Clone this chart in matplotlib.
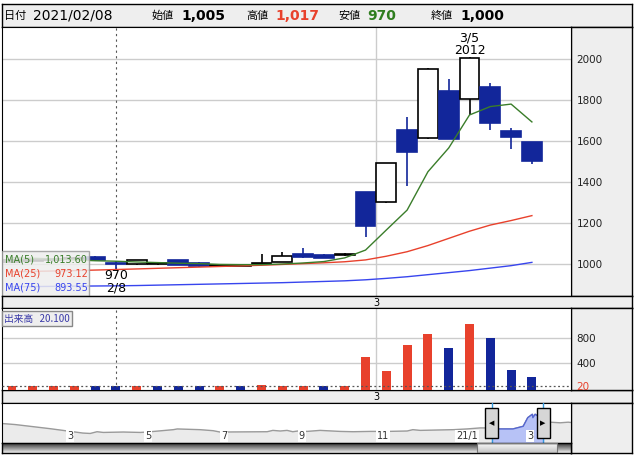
import numpy as np
import matplotlib
matplotlib.use("Agg")
import matplotlib.pyplot as plt
from matplotlib.patches import Rectangle
import matplotlib.transforms as mtransforms

plt.rcParams['font.family'] = ['DejaVu Sans', 'Noto Sans CJK JP']

# ---- daily data, day 0 = 2021/02/08 ----
days = list(range(-5, 21))
opens = [1012, 1016, 1020, 1024, 1034, 1005, 1000, 1002, 1018, 1003, 992, 991, 1000, 1010, 1050,
         1045, 1044, 1350, 1301, 1654, 1613, 1844, 1803, 1862, 1650, 1595]
highs = [1022, 1026, 1030, 1035, 1040, 1017, 1022, 1010, 1022, 1010, 998, 997, 1050, 1058, 1078,
         1050, 1056, 1352, 1495, 1716, 1955, 1901, 2012, 1881, 1663, 1597]
lows = [1008, 1012, 1015, 1020, 1016, 970, 995, 997, 993, 985, 988, 990, 998, 1008, 1030,
        1028, 1040, 1133, 1298, 1380, 1608, 1608, 1727, 1654, 1561, 1490]
closes = [1018, 1022, 1026, 1030, 1021, 1000, 1018, 1004, 997, 992, 996, 994, 1006, 1038, 1035,
          1030, 1050, 1187, 1491, 1548, 1953, 1611, 2005, 1689, 1620, 1504]

ma5 = [1030, 1028, 1025, 1020, 1016, 1013.6, 1010, 1007, 1004, 1002, 998, 997, 997, 1000, 1005,
       1012, 1030, 1068, 1166, 1263, 1450, 1566, 1727, 1768, 1780, 1693]
ma25 = [962, 964, 966, 968, 970.5, 973.1, 976, 979, 982, 985, 988, 991, 994, 998, 1002,
        1006, 1011, 1020, 1038, 1060, 1090, 1125, 1160, 1190, 1212, 1236]
ma75 = [889, 890, 891, 892, 892.8, 893.6, 895, 897, 899, 901, 903, 905, 907, 909, 912,
        915, 918, 923, 930, 938, 948, 958, 968, 980, 992, 1008]

volume = [18, 18, 30, 18, 18, 26, 18, 18, 18, 18, 18, 18, 42, 32, 32,
          18, 18, 488, 273, 686, 867, 636, 1032, 800, 290, 175]
vol_up = ['r', 'r', 'r', 'r', 'b', 'b', 'r', 'b', 'b', 'b', 'r', 'b', 'r', 'r', 'r',
          'b', 'r', 'r', 'r', 'r', 'r', 'b', 'r', 'b', 'b', 'b']

price_ticks = [1000, 1200, 1400, 1600, 1800, 2000]
vol_ticks = [400, 800]

# navigator (position across strip in %, price)
nav_pos = [0, 2.3, 4.9, 8.4, 10.7, 14.2, 15.5, 16.7, 17.8, 21.3, 24.3, 25.5, 30.1, 30.8, 34.8,
           37.1, 38.3, 46.6, 47.6, 48.9, 50.1, 51.1, 52.4, 53.6, 55.9, 59.4, 61.7, 64.7, 67.7,
           71.2, 72.2, 73.5, 79.3, 81.7, 84.0, 85.1, 86.1, 87.5, 89.8, 91.6, 92.4, 93.2, 93.3,
           93.7, 95.1, 96.3, 98.1, 99.5, 100]
nav_price = [1350, 1280, 1161, 1000, 881, 699, 671, 790, 741, 769, 741, 769, 930, 979, 930,
             860, 769, 790, 881, 839, 881, 790, 860, 811, 881, 811, 790, 811, 811,
             839, 930, 881, 930, 979, 1049, 1049, 1000, 979, 979, 1161, 1749, 1980, 1749,
             1980, 1630, 1441, 1399, 1441, 1420]
nav_tick_pos = [12.0, 25.7, 39.0, 52.7, 67.0, 81.7, 92.8]
nav_tick_lab = ['3', '5', '7', '9', '11', '21/1', '3']
nav_sel = (86.1, 95.1)

BLUE = '#12269a'
RED = '#e8412c'
GREEN = '#3a7d2a'
MABLUE = '#3845ee'
GRID = '#cccccc'
PANEL = '#eeeeee'

W, H = 638, 457
fig = plt.figure(figsize=(W / 100, H / 100), dpi=100)


def add_ax(x0, y0, x1, y1, **kw):
    return fig.add_axes([x0 / W, 1 - y1 / H, (x1 - x0) / W, (y1 - y0) / H], **kw)


def plain(a, fc=PANEL):
    a.set_facecolor(fc)
    a.set_xticks([])
    a.set_yticks([])
    for s in a.spines.values():
        s.set_color('black')
        s.set_linewidth(1)


XL = (-5.48, 21.88)
per_px = (XL[1] - XL[0]) / 569

# ---- header ----
hd = add_ax(2, 4, 632, 27)
plain(hd)
hd.set_xlim(2, 632)
hd.set_ylim(27, 4)
hd.text(4, 16, '日付', fontsize=8, va='center', family=['Noto Sans CJK JP'])
hd.text(33, 15.5, '2021/02/08', fontsize=10, va='center')
items = [(152, '始値', '1,005', 'black'), (246, '高値', '1,017', RED),
         (338, '安値', '970', '#2e7d1e'), (431, '終値', '1,000', 'black')]
for x, lab, val, c in items:
    hd.text(x, 16, lab, fontsize=8, va='center', family=['Noto Sans CJK JP'])
    hd.text(x + 29, 15.5, val, fontsize=10, va='center', fontweight='bold', color=c)

# ---- main price panel ----
axr = add_ax(571, 27, 632, 296)
plain(axr)
ax = add_ax(2, 27, 571, 296)
ax.set_xlim(*XL)
ax.set_ylim(844, 2156)
ax.set_xticks([])
ax.yaxis.tick_right()
ax.set_yticks(price_ticks)
ax.tick_params(axis='y', length=0, pad=4, labelsize=7.5, labelcolor='#222222')
for s in ax.spines.values():
    s.set_color('black')
for t in price_ticks:
    ax.axhline(t, color=GRID, lw=1, zorder=0)
ax.axvline(12.5, color=GRID, lw=1, zorder=0)
ax.axvline(0, ymin=0.1, ymax=1, color='#555555', lw=0.8, ls=(0, (2, 3)), zorder=1)

w = 0.95
for d, o, h, l, c in zip(days, opens, highs, lows, closes):
    up = c >= o
    col = 'black' if up else BLUE
    ax.vlines(d, l, h, color=col, lw=1.2, zorder=3)
    ax.add_patch(Rectangle((d - w / 2, min(o, c)), w, max(abs(c - o), 3),
                           facecolor='white' if up else BLUE, edgecolor=col,
                           lw=1.2, zorder=4))

ax.plot(days, ma75, color=MABLUE, lw=1, zorder=5)
ax.plot(days, ma25, color=RED, lw=1, zorder=5)
ax.plot(days, ma5, color=GREEN, lw=1, zorder=5)

ax.text(17, 2100, '3/5', ha='center', va='center', fontsize=9)
ax.text(17, 2040, '2012', ha='center', va='center', fontsize=9)
ax.text(0, 944, '970', ha='center', va='center', fontsize=9, zorder=6)
ax.text(0, 882, '2/8', ha='center', va='center', fontsize=9, zorder=6)

# MA legend box
ax.add_patch(Rectangle((0, 0), 87 / 569, 45 / 269, transform=ax.transAxes,
                       facecolor=PANEL, edgecolor='#999999', alpha=0.85, lw=1, zorder=7))
leg = [('MA(5)', '1,013.60', GREEN, 36), ('MA(25)', '973.12', RED, 22),
       ('MA(75)', '893.55', MABLUE, 8)]
for lab, val, c, yy in leg:
    ax.text(3 / 569, yy / 269, lab, transform=ax.transAxes, color=c, fontsize=7,
            va='center', zorder=8)
    ax.text(86 / 569, yy / 269, val, transform=ax.transAxes, color=c, fontsize=7,
            va='center', ha='right', zorder=8)

# ---- month strips ----
for y0, y1 in [(296, 308), (390, 403)]:
    st = add_ax(2, y0, 632, y1)
    plain(st)
    st.set_xlim(XL[0], XL[0] + 630 * per_px)
    st.set_ylim(0, 1)
    st.text(12.5, 0.45, '3', ha='center', va='center', fontsize=7)

# ---- volume panel ----
avr = add_ax(571, 308, 632, 390)
plain(avr)
av = add_ax(2, 308, 571, 390)
av.set_xlim(*XL)
av.set_ylim(-40, 1290)
av.set_xticks([])
for s in av.spines.values():
    s.set_color('black')
for t in vol_ticks:
    av.axhline(t, color=GRID, lw=1, zorder=0)
av.axvline(12.5, color=GRID, lw=1, zorder=0)
av.axvline(0, color='#555555', lw=0.8, ls=(0, (2, 3)), zorder=1)
av.bar(days, [v + 40 for v in volume], bottom=-40, width=0.43,
       color=[RED if u == 'r' else BLUE for u in vol_up], zorder=3)
av.axhline(20, color='#555555', lw=0.9, ls=(0, (1.5, 2)), zorder=4)
av.yaxis.tick_right()
av.set_yticks(vol_ticks + [20])
av.set_yticklabels(['400', '800', '20'])
av.tick_params(axis='y', length=0, pad=4, labelsize=7.5, labelcolor='#222222')
av.get_yticklabels()[2].set_color(RED)
av.text(0.004, 0.93, '出来高   20.100', transform=av.transAxes, fontsize=7,
        color='#3a3aa8', va='top', family=['Noto Sans CJK JP', 'DejaVu Sans'],
        bbox=dict(boxstyle='square,pad=0.25', fc=PANEL, ec='#888888', lw=1), zorder=6)

# ---- navigator ----
anr = add_ax(571, 403, 632, 453)
plain(anr)
an = add_ax(2, 403, 571, 443)
an.set_xlim(0, 100)
an.set_ylim(20, 2750)
an.set_xticks([])
an.set_yticks([])
for s in an.spines.values():
    s.set_color('black')
an.fill_between(nav_pos, nav_price, 20, color='#ebebeb', zorder=1)
an.plot(nav_pos, nav_price, color='#9a9a9a', lw=1, zorder=2)
sel = [(p, v) for p, v in zip(nav_pos, nav_price) if nav_sel[0] <= p <= nav_sel[1]]
an.fill_between([p for p, v in sel], [v for p, v in sel], 20, color='#b7c2f6', zorder=3)
an.plot([p for p, v in sel], [v for p, v in sel], color='#5566d0', lw=1, zorder=4)
for p, lab in zip(nav_tick_pos, nav_tick_lab):
    an.text(p, 520, lab, ha='center', va='center', fontsize=7, color='#333333', zorder=5,
            bbox=dict(boxstyle='square,pad=0.1', fc='white', ec='none'))
btrans = mtransforms.blended_transform_factory(an.transData, an.transAxes)
hw = 13 / 569 * 100
for p, arrow in zip(nav_sel, ['◀', '▶']):
    an.axvline(p, color='#3399dd', lw=1, zorder=6)
    an.add_patch(Rectangle((p - hw / 2, 0.13), hw, 0.74, transform=btrans,
                           facecolor='#d6d6d6', edgecolor='black', lw=1, zorder=7))
    an.text(p, 0.5, arrow, transform=btrans, ha='center', va='center', fontsize=5, zorder=8)

# scrollbar
sb = add_ax(2, 443, 571, 453)
plain(sb)
sb.set_xlim(0, 100)
sb.set_ylim(0, 1)
grad = np.linspace(0, 1, 20).reshape(-1, 1)
sb.imshow(grad, cmap='gray', vmin=-0.3, vmax=1.1, extent=(0, 100, 0, 1), aspect='auto',
          origin='upper', zorder=1)
sb.imshow(grad, cmap='gray', vmin=-3.5, vmax=1.1, extent=(83.5, 97.5, 0, 1), aspect='auto',
          origin='lower', zorder=2)
sb.add_patch(Rectangle((83.5, 0), 14, 1, facecolor='none', edgecolor='#777777', lw=0.8, zorder=3))

fig.savefig('out.png', dpi=100)
